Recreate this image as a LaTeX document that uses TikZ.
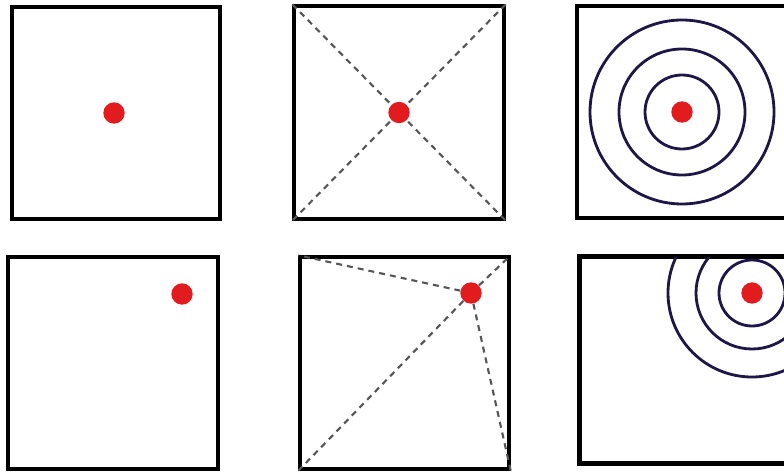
\documentclass[tikz,border=0pt]{standalone}
\usepackage{tikz}
\usetikzlibrary{positioning}
\definecolor{dotred}{RGB}{226, 28, 30}
\definecolor{ringblue}{RGB}{30, 22, 70}
\definecolor{dashgray}{RGB}{85, 85, 85}

\begin{document}
\begin{tikzpicture}[x=0.3mm, y=-0.3mm,
    box/.style={draw, line width=2.9pt, minimum width=6.3cm, minimum height=6.36cm, inner sep=0pt},
    dot/.style={circle, fill=dotred, minimum size=0.64cm, inner sep=0pt},
    guide/.style={dashgray, line width=1.8pt, dash pattern=on 1.8mm off 1.5mm},
    ring/.style={ringblue, line width=2.4pt}]
    \useasboundingbox (0,0) rectangle (784,472);

    % hàng trên
    \node[box, minimum width=6.24cm] (b1) at (116,113) {};
    \node[box, minimum height=6.39cm] (b2) at (399,112.5) {};
    \node[box] (b3) at (682,112) {};

    % hàng dưới
    \node[box] (b4) at (113,363) {};
    \node[box, minimum width=6.27cm] (b5) at (404.5,363) {};
    \node[box, minimum height=6.18cm] (b6) at (685,360) {};

    % ô 2: hai đường chéo
    \draw[guide] (b2.north west) -- (b2.south east);
    \draw[guide] (b2.north east) -- (b2.south west);

    % ô 5: nối chấm tới bốn góc
    \coordinate (c5) at (471,293);
    \draw[guide] (c5) -- (b5.north west);
    \draw[guide] (c5) -- (b5.north east);
    \draw[guide] (c5) -- (b5.south west);
    \draw[guide] (c5) -- (b5.south east);

    % ô 3: ba vòng tròn đồng tâm
    \draw[ring] (682,112) circle[radius=92];
    \draw[ring] (682,112) circle[radius=63];
    \draw[ring] (682,112) circle[radius=37];

    % ô 6: vòng tròn bị cắt ở mép trên
    \begin{scope}
        \clip (b6.north west) rectangle (b6.south east);
        \draw[ring] (752,293) circle[radius=84];
        \draw[ring] (752,293) circle[radius=56];
        \draw[ring] (752,293) circle[radius=33];
    \end{scope}
    \draw[line width=2.9pt] (b6.north west) rectangle (b6.south east);

    % các chấm đỏ
    \node[dot] (d1) at (114,113) {};
    \node[dot] (d2) at (b2.center) {};
    \node[dot] (d3) at (682,112) {};
    \node[dot] (d4) at (182,294) {};
    \node[dot] (d5) at (c5) {};
    \node[dot] (d6) at (752,293) {};
\end{tikzpicture}
\end{document}
